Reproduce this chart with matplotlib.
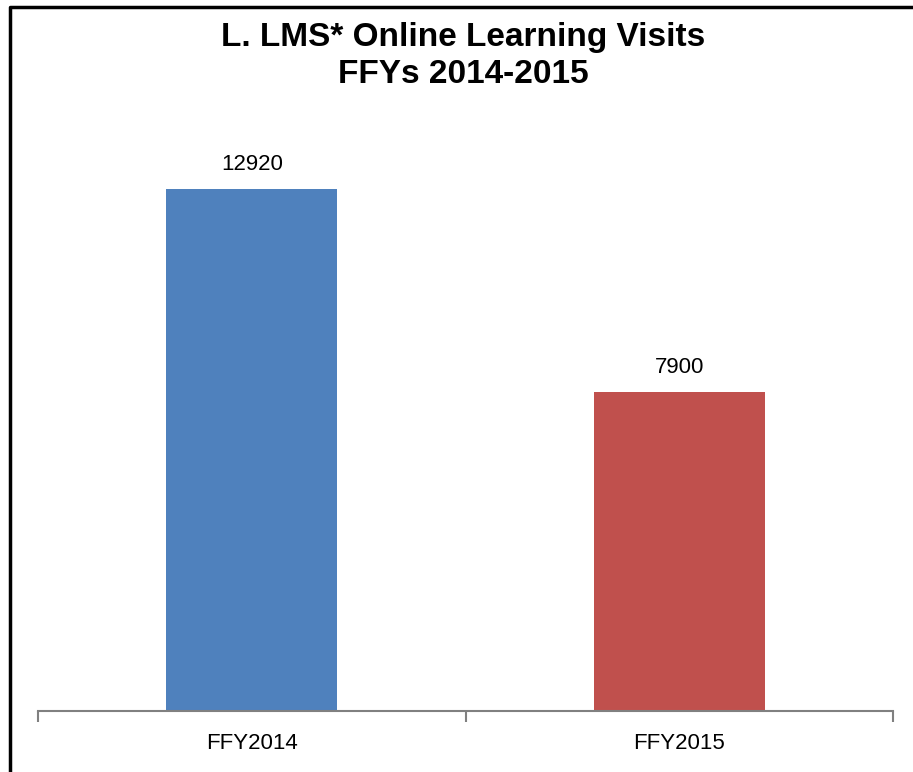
import matplotlib.pyplot as plt
from matplotlib.lines import Line2D

# data
years = ['FFY2014', 'FFY2015']
visits = [12920, 7900]
colors = ['#4F81BD', '#C0504D']

plt.rcParams['font.family'] = ['Liberation Sans Narrow', 'Liberation Sans', 'DejaVu Sans']

fig = plt.figure(figsize=(9.13, 7.72), dpi=100)
W, H = 913, 772
ax = fig.add_axes([38 / W, (H - 711) / H, (893 - 38) / W, (711 - 145) / H])

x = list(range(len(years)))
ax.bar(x, visits, width=0.4, color=colors)
for xi, v in zip(x, visits):
    ax.annotate(str(v), (xi, v), xytext=(0, 10), textcoords='offset points',
                ha='center', va='bottom', fontsize=16)

ax.set_xlim(-0.5, len(years) - 0.5)
ax.set_ylim(0, 14000)
for s in ['top', 'right', 'left']:
    ax.spines[s].set_visible(False)
ax.spines['bottom'].set_color('#808080')
ax.spines['bottom'].set_linewidth(1.5)
ax.set_yticks([])
ax.set_xticks([i - 0.5 for i in range(len(years) + 1)])
ax.set_xticklabels([])
ax.tick_params(axis='x', which='major', length=8, width=1.5, color='#808080')
ax.set_xticks(x, minor=True)
ax.set_xticklabels(years, minor=True, fontsize=16)
ax.tick_params(axis='x', which='minor', length=0, pad=16)

fig.text(463 / W, 1 - 56 / H, 'L. LMS* Online Learning Visits\nFFYs 2014-2015',
         ha='center', va='center', fontsize=24, fontweight='bold', linespacing=1.25)

# frame: only top and left edges show in the picture
fig.add_artist(Line2D([10 / W, 10 / W, 1], [0, 1 - 7 / H, 1 - 7 / H],
                      transform=fig.transFigure, color='black', linewidth=2.5))

fig.savefig('out.png', dpi=100)
